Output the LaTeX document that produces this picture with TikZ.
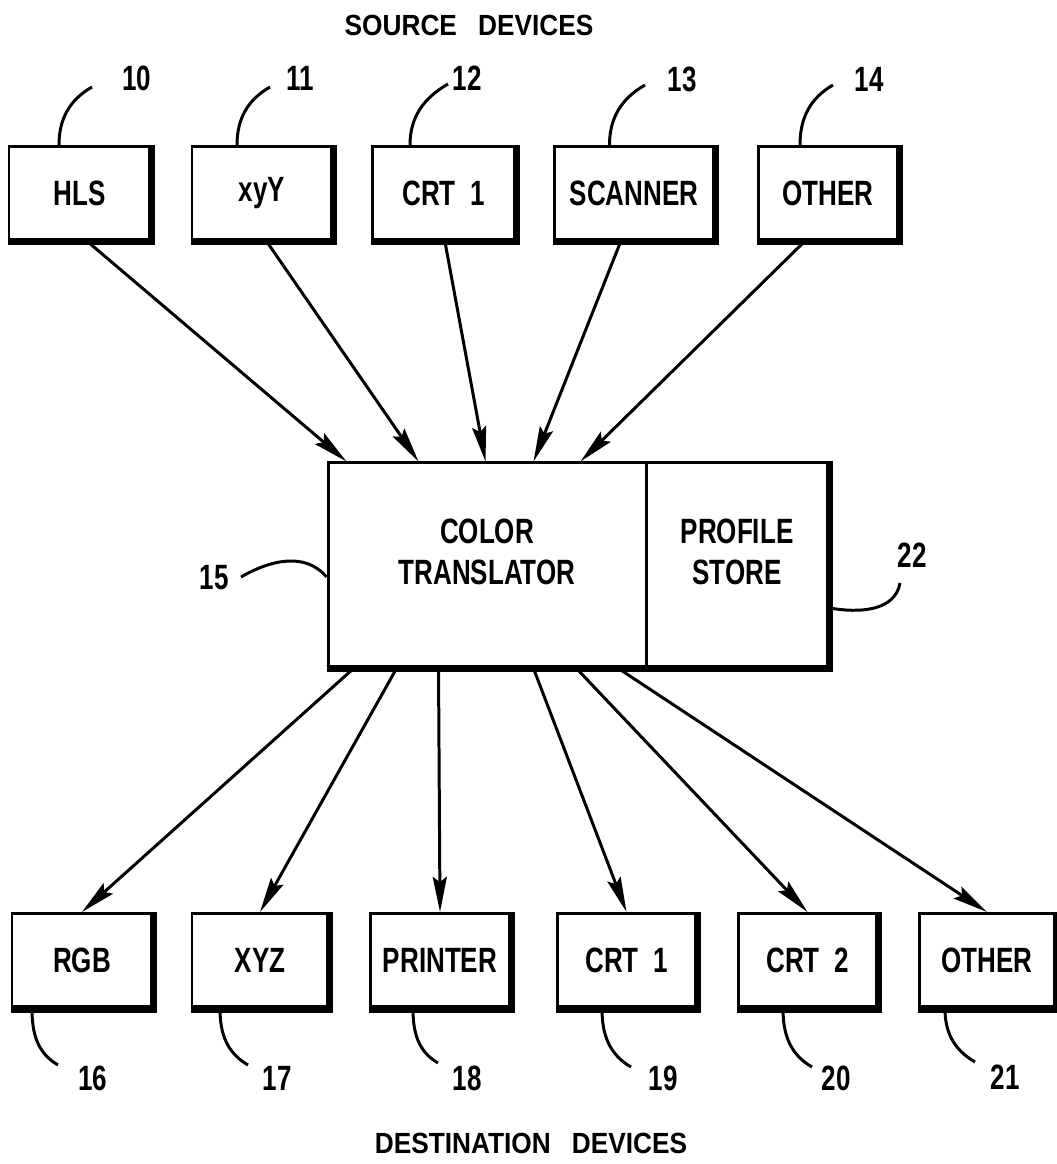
\documentclass[tikz,border=0pt]{standalone}
\usepackage{fontspec}
\setmainfont{Liberation Sans}[FakeStretch=0.74]
\newfontfamily\titlefont{Liberation Sans}[FakeStretch=0.90]
\usetikzlibrary{arrows.meta}

\tikzset{
  dev/.style={draw, line width=0.85pt, minimum height=0.94cm, inner sep=0pt, font=\fontsize{10}{11.5}\selectfont\bfseries},
  refnum/.style={font=\fontsize{10}{12}\selectfont\bfseries},
  lead/.style={line width=0.85pt},
  flow/.style={line width=0.85pt, -{Stealth[length=10pt,width=4pt,inset=1.5pt]}},
}
\newcommand{\devshadow}[1]{\draw[line width=2pt] (#1.south west) -- (#1.south east) -- (#1.north east);}

\begin{document}
\begin{tikzpicture}
  \useasboundingbox (0,0) rectangle (10.56,11.64);

  % titles
  \node [font=\titlefont\fontsize{8.3}{10}\selectfont\bfseries] (srctitle) at (4.69,11.39) {SOURCE\hspace{6pt}DEVICES};
  \node [font=\titlefont\fontsize{8.3}{10}\selectfont\bfseries] (dsttitle) at (5.31,0.21) {DESTINATION\hspace{6pt}DEVICES};

  % source devices
  \node [dev, minimum width=1.41cm] (hls) at (0.795,9.705) {HLS};
  \node [dev, minimum width=1.40cm] (xyy) at (2.62,9.705) {xyY};
  \node [dev, minimum width=1.43cm] (crtin) at (4.435,9.705) {CRT~~1};
  \node [dev, minimum width=1.60cm] (scanner) at (6.34,9.705) {SCANNER};
  \node [dev, minimum width=1.40cm] (otherin) at (8.28,9.705) {OTHER};

  % translator and profile store
  \node [dev, minimum width=3.18cm, minimum height=2.04cm] (trans) at (4.87,5.99) {};
  \node [dev, minimum width=1.82cm, minimum height=2.04cm] (store) at (7.37,5.99) {};
  \node [align=center, font=\fontsize{10}{11.5}\selectfont\bfseries] (translabel) at ([yshift=0.13cm]trans.center) {COLOR\\TRANSLATOR};
  \node [align=center, font=\fontsize{10}{11.5}\selectfont\bfseries] (storelabel) at ([yshift=0.13cm]store.center) {PROFILE\\STORE};

  % destination devices
  \node [dev, minimum width=1.40cm] (rgb) at (0.82,2.035) {RGB};
  \node [dev, minimum width=1.36cm] (xyz) at (2.60,2.035) {XYZ};
  \node [dev, minimum width=1.40cm] (printer) at (4.40,2.035) {PRINTER};
  \node [dev, minimum width=1.39cm] (crtone) at (6.265,2.035) {CRT~~1};
  \node [dev, minimum width=1.39cm] (crttwo) at (8.075,2.035) {CRT~~2};
  \node [dev, minimum width=1.36cm] (otherout) at (9.87,2.035) {OTHER};

  \foreach \n in {hls,xyy,crtin,scanner,otherin,rgb,xyz,printer,crtone,crttwo,otherout}
    \devshadow{\n}
  \draw[line width=2pt] (trans.south west) -- (store.south east) -- (store.north east);

  % source arrows
  \draw[flow] ([xshift=0.085cm]hls.south) -- ([xshift=0.20cm]trans.north west);
  \draw[flow] ([xshift=0.05cm]xyy.south) -- ([xshift=0.92cm]trans.north west);
  \draw[flow] ([xshift=0.015cm]crtin.south) -- ([xshift=1.59cm]trans.north west);
  \draw[flow] ([xshift=-0.135cm]scanner.south) -- ([xshift=2.07cm]trans.north west);
  \draw[flow] ([xshift=-0.24cm]otherin.south) -- ([xshift=2.54cm]trans.north west);

  % destination arrows
  \draw[flow] ([xshift=0.27cm]trans.south west) -- (rgb.north);
  \draw[flow] ([xshift=0.70cm]trans.south west) -- (xyz.north);
  \draw[flow] ([xshift=1.12cm]trans.south west) -- (printer.north);
  \draw[flow] ([xshift=2.07cm]trans.south west) -- (crtone.north);
  \draw[flow] ([xshift=2.50cm]trans.south west) -- (crttwo.north);
  \draw[flow] ([xshift=2.92cm]trans.south west) -- (otherout.north);

  % reference numerals, top
  \draw[lead] ([xshift=-0.205cm]hls.north) to[out=90,in=210] (0.92,10.77);
  \node [refnum] (r10) at (1.37,10.86) {10};
  \draw[lead] ([xshift=-0.25cm]xyy.north) to[out=90,in=210] (2.70,10.77);
  \node [refnum] (r11) at (3.00,10.86) {11};
  \draw[lead] ([xshift=-0.335cm]crtin.north) to[out=90,in=210] (4.48,10.80);
  \node [refnum] (r12) at (4.67,10.86) {12};
  \draw[lead] ([xshift=-0.245cm]scanner.north) to[out=90,in=210] (6.45,10.79);
  \node [refnum] (r13) at (6.82,10.85) {13};
  \draw[lead] ([xshift=-0.28cm]otherin.north) to[out=90,in=210] (8.33,10.79);
  \node [refnum] (r14) at (8.69,10.85) {14};

  % reference numerals, middle
  \draw[lead] ([yshift=-0.12cm]trans.west) to[out=130,in=30] (2.41,5.87);
  \node [refnum] (r15) at (2.14,5.86) {15};
  \draw[lead] ([yshift=-0.43cm]store.east) to[out=-10,in=-100] (9.00,5.81);
  \node [refnum] (r22) at (9.12,6.09) {22};

  % reference numerals, bottom
  \draw[lead] ([xshift=-0.50cm]rgb.south) to[out=-90,in=150] (0.58,0.99);
  \node [refnum] (r16) at (0.93,0.86) {16};
  \draw[lead] ([xshift=-0.40cm]xyz.south) to[out=-90,in=150] (2.48,0.99);
  \node [refnum] (r17) at (2.77,0.86) {17};
  \draw[lead] ([xshift=-0.27cm]printer.south) to[out=-90,in=150] (4.38,1.01);
  \node [refnum] (r18) at (4.67,0.86) {18};
  \draw[lead] ([xshift=-0.245cm]crtone.south) to[out=-90,in=150] (6.31,0.97);
  \node [refnum] (r19) at (6.63,0.86) {19};
  \draw[lead] ([xshift=-0.245cm]crttwo.south) to[out=-90,in=150] (8.12,0.97);
  \node [refnum] (r20) at (8.36,0.86) {20};
  \draw[lead] ([xshift=-0.42cm]otherout.south) to[out=-90,in=150] (9.75,1.02);
  \node [refnum] (r21) at (10.05,0.87) {21};
\end{tikzpicture}
\end{document}
